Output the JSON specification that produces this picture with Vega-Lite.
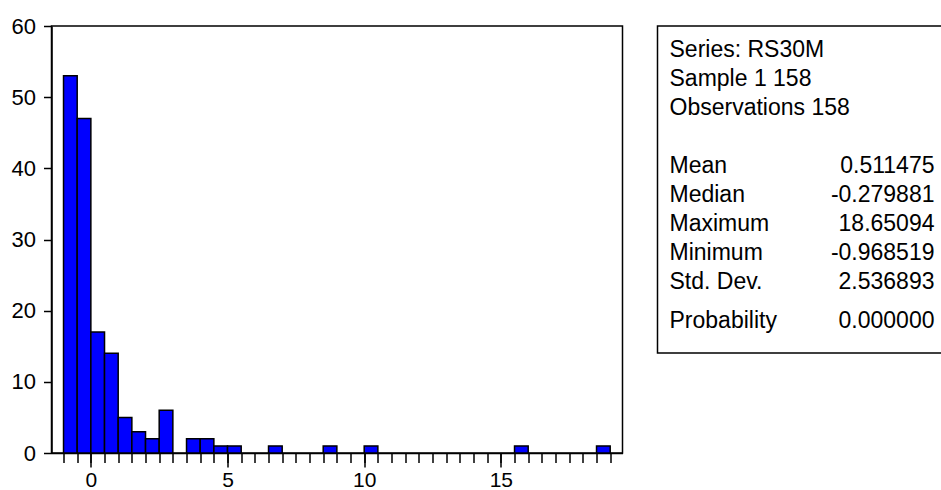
{
  "$schema": "https://vega.github.io/schema/vega-lite/v6.json",
  "background": "white",
  "padding": {"left": 9.5, "top": 14, "right": 0, "bottom": 0},
  "bounds": "flush",
  "spacing": 35,
  "config": {
    "font": "Liberation Sans",
    "view": {"stroke": "black", "strokeWidth": 1.5},
    "axis": {
      "labelColor": "black", "tickColor": "black", "domainColor": "black",
      "labelFont": "Liberation Sans", "labelFontSize": 21, "labelFlush": false,
      "domainWidth": 1.5, "tickWidth": 1.5, "grid": false, "title": null
    }
  },
  "hconcat": [
    {
      "width": 571,
      "height": 427,
      "data": {"values": [
        {"bin_start": -1.0, "bin_end": -0.5, "count": 53},
        {"bin_start": -0.5, "bin_end": 0.0, "count": 47},
        {"bin_start": 0.0, "bin_end": 0.5, "count": 17},
        {"bin_start": 0.5, "bin_end": 1.0, "count": 14},
        {"bin_start": 1.0, "bin_end": 1.5, "count": 5},
        {"bin_start": 1.5, "bin_end": 2.0, "count": 3},
        {"bin_start": 2.0, "bin_end": 2.5, "count": 2},
        {"bin_start": 2.5, "bin_end": 3.0, "count": 6},
        {"bin_start": 3.5, "bin_end": 4.0, "count": 2},
        {"bin_start": 4.0, "bin_end": 4.5, "count": 2},
        {"bin_start": 4.5, "bin_end": 5.0, "count": 1},
        {"bin_start": 5.0, "bin_end": 5.5, "count": 1},
        {"bin_start": 6.5, "bin_end": 7.0, "count": 1},
        {"bin_start": 8.5, "bin_end": 9.0, "count": 1},
        {"bin_start": 10.0, "bin_end": 10.5, "count": 1},
        {"bin_start": 15.5, "bin_end": 16.0, "count": 1},
        {"bin_start": 18.5, "bin_end": 19.0, "count": 1}
      ]},
      "layer": [
        {
          "mark": {"type": "bar", "opacity": 0},
          "encoding": {
            "x": {"field": "bin_start", "type": "quantitative",
                  "scale": {"domain": [-1.44, 19.45], "nice": false, "zero": false},
                  "axis": {"orient": "bottom", "values": [-1,-0.5,0,0.5,1,1.5,2,2.5,3,3.5,4,4.5,5,5.5,6,6.5,7,7.5,8,8.5,9,9.5,10,10.5,11,11.5,12,12.5,13,13.5,14,14.5,15,15.5,16,16.5,17,17.5,18,18.5,19],
                           "labels": false, "tickSize": 9.5, "domain": true}},
            "x2": {"field": "bin_end"},
            "y": {"field": "count", "type": "quantitative",
                  "scale": {"domain": [0, 60], "nice": false},
                  "axis": {"values": [0,10,20,30,40,50,60], "tickSize": 8, "labelPadding": 8, "labelFontSize": 22}},
            "y2": {"datum": 0}
          }
        },
        {
          "mark": {"type": "bar", "fill": "#0000ff", "stroke": "black", "strokeWidth": 1.5},
          "encoding": {
            "x": {"field": "bin_start", "type": "quantitative",
                  "axis": {"orient": "bottom", "values": [0, 5, 10, 15], "tickSize": 14, "labelPadding": 2, "domain": false}},
            "x2": {"field": "bin_end"},
            "y": {"field": "count", "type": "quantitative"},
            "y2": {"datum": 0}
          }
        }
      ],
      "resolve": {"axis": {"x": "independent"}}
    },
    {
      "width": 286,
      "height": 327,
      "data": {"values": [
        {"label": "Series: RS30M", "value": "", "line": 1},
        {"label": "Sample 1 158", "value": "", "line": 2},
        {"label": "Observations 158", "value": "", "line": 3},
        {"label": "Mean", "value": "0.511475", "line": 5},
        {"label": "Median", "value": "-0.279881", "line": 6},
        {"label": "Maximum", "value": "18.65094", "line": 7},
        {"label": "Minimum", "value": "-0.968519", "line": 8},
        {"label": "Std. Dev.", "value": "2.536893", "line": 9},
        {"label": "Probability", "value": "0.000000", "line": 10.35}
      ]},
      "layer": [
        {
          "mark": {"type": "text", "align": "left", "baseline": "alphabetic", "fontSize": 23, "color": "black", "font": "Liberation Sans"},
          "encoding": {
            "x": {"datum": 0.042, "type": "quantitative", "scale": {"domain": [0, 1], "nice": false, "zero": false}, "axis": null},
            "y": {"field": "line", "type": "quantitative", "scale": {"domain": [-0.0586, 11.217], "reverse": true, "nice": false, "zero": false}, "axis": null},
            "text": {"field": "label"}
          }
        },
        {
          "mark": {"type": "text", "align": "right", "baseline": "alphabetic", "fontSize": 23, "color": "black", "font": "Liberation Sans"},
          "encoding": {
            "x": {"datum": 0.9685, "type": "quantitative", "axis": null},
            "y": {"field": "line", "type": "quantitative", "axis": null},
            "text": {"field": "value"}
          }
        }
      ]
    }
  ]
}
